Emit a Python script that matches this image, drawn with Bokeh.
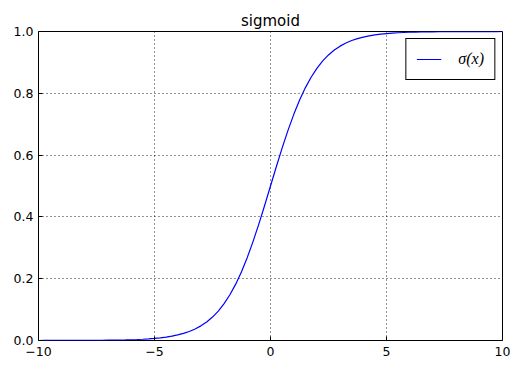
from bokeh.plotting import figure
from bokeh.models import Range1d, Legend, LegendItem, FixedTicker
from bokeh.embed import file_html
from bokeh.resources import INLINE

# data
x_vals = [-10.0, -9.75, -9.5, -9.25, -9.0, -8.75, -8.5, -8.25, -8.0, -7.75,
          -7.5, -7.25, -7.0, -6.75, -6.5, -6.25, -6.0, -5.75, -5.5, -5.25,
          -5.0, -4.75, -4.5, -4.25, -4.0, -3.75, -3.5, -3.25, -3.0, -2.75,
          -2.5, -2.25, -2.0, -1.75, -1.5, -1.25, -1.0, -0.75, -0.5, -0.25,
          0.0,
          0.25, 0.5, 0.75, 1.0, 1.25, 1.5, 1.75, 2.0, 2.25, 2.5,
          2.75, 3.0, 3.25, 3.5, 3.75, 4.0, 4.25, 4.5, 4.75, 5.0,
          5.25, 5.5, 5.75, 6.0, 6.25, 6.5, 6.75, 7.0, 7.25, 7.5,
          7.75, 8.0, 8.25, 8.5, 8.75, 9.0, 9.25, 9.5, 9.75, 10.0]
y_vals = [0.0000, 0.0001, 0.0001, 0.0001, 0.0001, 0.0002, 0.0002, 0.0003, 0.0003, 0.0004,
          0.0006, 0.0007, 0.0009, 0.0012, 0.0015, 0.0019, 0.0025, 0.0032, 0.0041, 0.0052,
          0.0067, 0.0086, 0.0110, 0.0141, 0.0180, 0.0230, 0.0293, 0.0373, 0.0474, 0.0601,
          0.0759, 0.0953, 0.1192, 0.1480, 0.1824, 0.2227, 0.2689, 0.3208, 0.3775, 0.4378,
          0.5000,
          0.5622, 0.6225, 0.6792, 0.7311, 0.7773, 0.8176, 0.8520, 0.8808, 0.9047, 0.9241,
          0.9399, 0.9526, 0.9627, 0.9707, 0.9770, 0.9820, 0.9859, 0.9890, 0.9914, 0.9933,
          0.9948, 0.9959, 0.9968, 0.9975, 0.9981, 0.9985, 0.9988, 0.9991, 0.9993, 0.9994,
          0.9996, 0.9997, 0.9997, 0.9998, 0.9998, 0.9999, 0.9999, 0.9999, 0.9999, 1.0000]
x_ticks = [-10, -5, 0, 5, 10]
y_ticks = [0.0, 0.2, 0.4, 0.6, 0.8, 1.0]
title_text = "sigmoid"
legend_label = "σ(x)"

p = figure(width=521, height=370, output_backend="svg", toolbar_location=None,
           x_range=Range1d(-10, 10), y_range=Range1d(0, 1),
           min_border_left=38, min_border_right=19, min_border_top=31, min_border_bottom=30)
p.background_fill_color = "white"
p.border_fill_color = "white"
p.outline_line_color = "black"
p.outline_line_width = 1
p.outline_line_alpha = 1

p.title.text = title_text
p.title.align = "center"
p.title.text_font = "DejaVu Sans"
p.title.text_font_size = "15px"
p.title.text_font_style = "normal"
p.title.text_color = "black"
p.title.standoff = 4

for ax, ticks in ((p.xaxis[0], x_ticks), (p.yaxis[0], y_ticks)):
    ax.ticker = FixedTicker(ticks=ticks)
    ax.axis_line_color = None
    ax.major_tick_in = 4
    ax.major_tick_out = 0
    ax.major_tick_line_color = "black"
    ax.minor_tick_line_color = None
    ax.major_label_text_font = "DejaVu Sans"
    ax.major_label_text_font_size = "12.5px"
    ax.major_label_text_color = "black"
p.xaxis.major_label_overrides = {-10: "\u221210", -5: "\u22125", 0: "0", 5: "5", 10: "10"}
p.yaxis.major_label_overrides = {t: f"{t:.1f}" for t in y_ticks}
p.yaxis.major_label_standoff = 5
p.xaxis.major_label_standoff = 6

for g in (p.xgrid[0], p.ygrid[0]):
    g.grid_line_color = "black"
    g.grid_line_dash = "1 3"
    g.grid_line_width = 1
    g.grid_line_alpha = 0.85

r = p.line(x_vals, y_vals, line_color="#0000ff", line_width=1.2)

legend = Legend(items=[LegendItem(label=legend_label, renderers=[r])],
                location="top_right")
legend.border_line_color = "black"
legend.border_line_width = 1
legend.border_line_alpha = 1
legend.background_fill_color = "white"
legend.background_fill_alpha = 1
legend.margin = 7
legend.padding = 10
legend.glyph_width = 25
legend.label_standoff = 17
legend.label_text_font = "Liberation Serif"
legend.label_text_font_style = "italic"
legend.label_text_font_size = "16px"
legend.label_text_color = "black"
legend.label_height = 16
p.add_layout(legend)

open("out.html", "w").write(file_html(p, INLINE))
